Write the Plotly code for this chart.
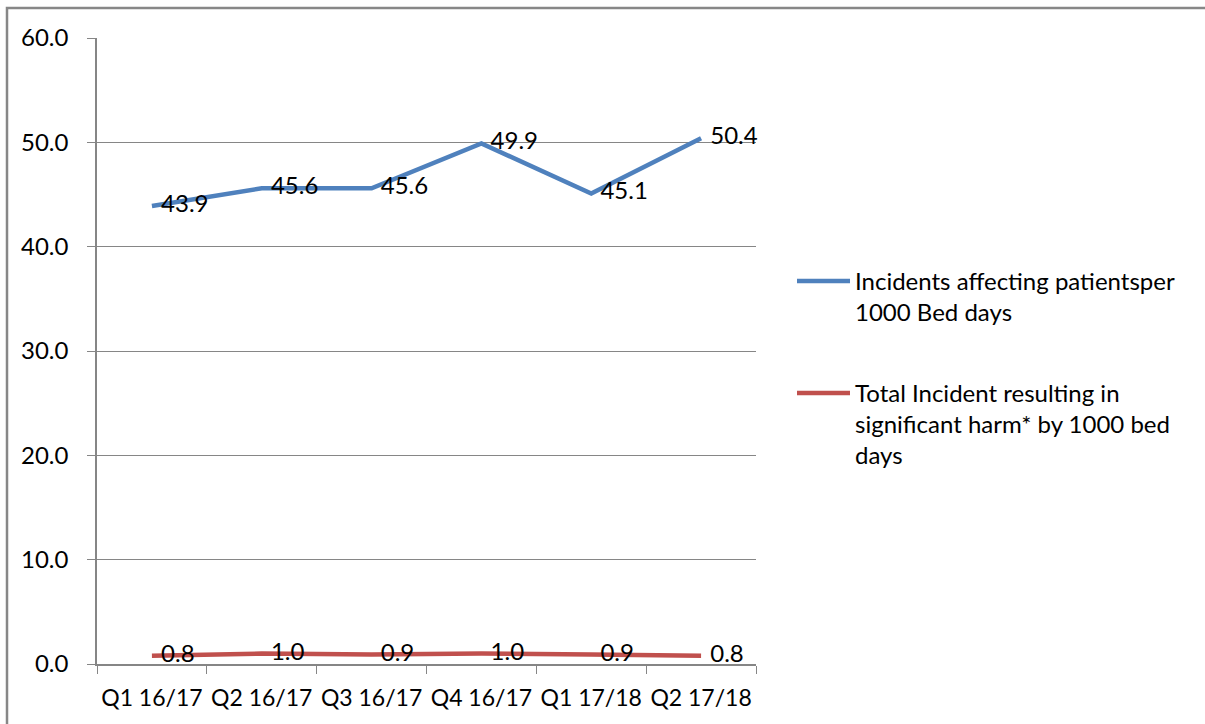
import plotly.graph_objects as go

categories = ["Q1 16/17", "Q2 16/17", "Q3 16/17", "Q4 16/17", "Q1 17/18", "Q2 17/18"]
incidents = [43.9, 45.6, 45.6, 49.9, 45.1, 50.4]
harm = [0.8, 1.0, 0.9, 1.0, 0.9, 0.8]
series_names = [
    "Incidents affecting patientsper<br>1000 Bed days",
    "Total Incident resulting in<br>significant harm* by 1000 bed<br>days",
]
colors = ["#4F81BD", "#C0504D"]
y_ticks = [0, 10, 20, 30, 40, 50, 60]

FONT = "Lato"
FS = 24
W, H = 1205, 724
L, R, T, B = 97, 449, 38, 60
pw, ph = W - L - R, H - T - B


def px_x(x):
    return (x - L) / pw


def px_y(y):
    return (T + ph - y) / ph


fig = go.Figure()
for name, vals, col in [
    (series_names[0], incidents, colors[0]),
    (series_names[1], harm, colors[1]),
]:
    fig.add_trace(go.Scatter(
        x=categories, y=vals, name=name, mode="lines+text",
        line=dict(color=col, width=4.5),
        text=["\u00a0\u2009" + f"{v:.1f}" for v in vals], textposition="middle right",
        textfont=dict(family=FONT, size=FS, color="#000000"),
        cliponaxis=False, showlegend=False,
    ))

shapes = [dict(
    type="rect", xref="paper", yref="paper",
    x0=px_x(7), x1=px_x(W + 20), y0=-0.2, y1=px_y(8),
    line=dict(color="#878787", width=2.5), fillcolor="rgba(0,0,0,0)", layer="below",
)]
annotations = []
legend_y = [281, 393]
for name, col, ly in zip(series_names, colors, legend_y):
    shapes.append(dict(
        type="line", xref="paper", yref="paper",
        x0=px_x(797), x1=px_x(850), y0=px_y(ly), y1=px_y(ly),
        line=dict(color=col, width=4.5),
    ))
    annotations.append(dict(
        xref="paper", yref="paper", x=px_x(853), y=px_y(ly - 17),
        xanchor="left", yanchor="top", align="left", showarrow=False,
        text=name, font=dict(family=FONT, size=FS, color="#000000"),
    ))

fig.update_layout(
    width=W, height=H,
    margin=dict(l=L, r=R, t=T, b=B),
    paper_bgcolor="white", plot_bgcolor="white",
    font=dict(family=FONT, size=FS, color="#000000"),
    showlegend=False,
    xaxis=dict(
        type="category", tickson="boundaries", ticks="outside", ticklen=8,
        tickcolor="#868686", showline=True, linecolor="#868686", linewidth=1.5,
        showgrid=False, range=[-0.5, 5.5], tickfont=dict(family=FONT, size=23),
        ticklabelstandoff=13, tickangle=0, automargin=False,
    ),
    yaxis=dict(
        range=[0, 60], tickvals=y_ticks, ticktext=[f"{v:.1f}" for v in y_ticks],
        ticks="outside", ticklen=8, tickcolor="#868686",
        showline=True, linecolor="#868686", linewidth=1.5,
        showgrid=True, gridcolor="#868686", gridwidth=1.2,
        zeroline=False, ticklabelstandoff=14, tickfont=dict(family=FONT, size=FS),
        automargin=False,
    ),
    shapes=shapes,
    annotations=annotations,
)

fig.write_html("out.html")
